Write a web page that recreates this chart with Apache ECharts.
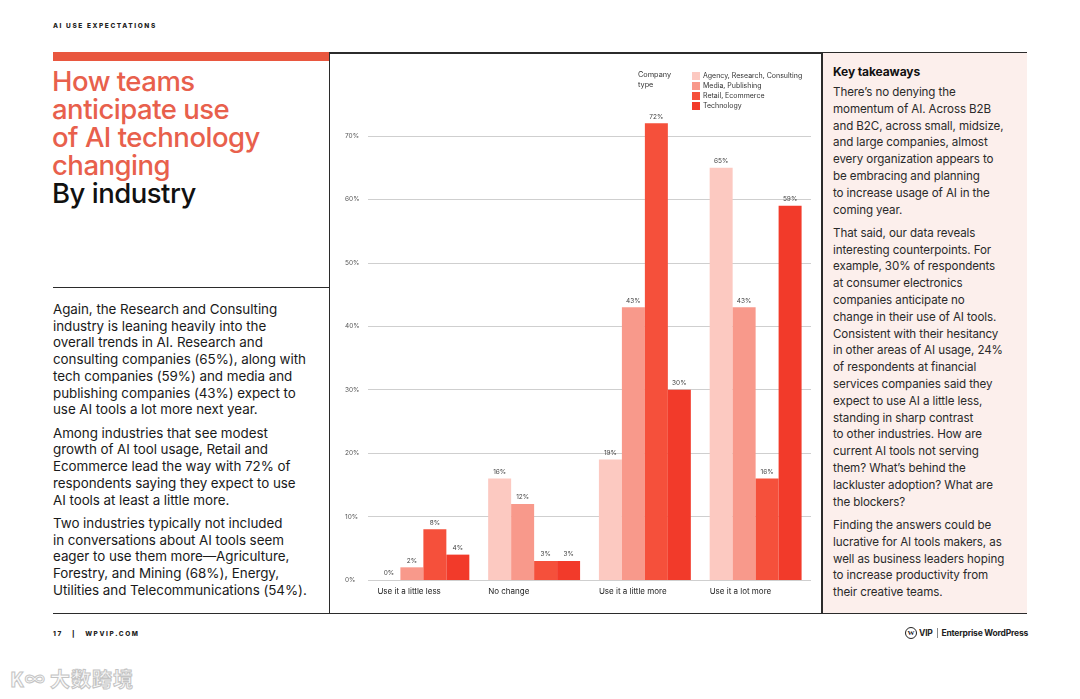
<!DOCTYPE html>
<html><head><meta charset="utf-8">
<script src="https://cdn.jsdelivr.net/npm/echarts@6/dist/echarts.min.js"></script>
<style>
body{margin:0;width:1080px;height:699px;background:#fff;position:relative;overflow:hidden;font-family:Inter,"Noto Sans",sans-serif;color:#1a1a1a}
.abs{position:absolute;white-space:nowrap}
.hdr{font-size:6.5px;font-weight:800;letter-spacing:1.6px;color:#222}
.title{left:52px;top:67px;font-size:27.5px;line-height:28px;font-weight:500;letter-spacing:-0.5px;color:#e8604c}
.title .k{color:#111}
.body{left:53px;top:301px;font-size:13.4px;line-height:16.7px;letter-spacing:-0.05px;color:#1a1a1a}
.body p{margin:0 0 6.8px 0}
.right{left:822px;top:53px;width:205px;height:560px;background:#fcefec}
.rt{left:833px;top:64px;font-size:11.6px;line-height:16.8px;letter-spacing:-0.1px;color:#2a2a2a}
.rt p{margin:0 0 6.5px 0}
.rt .h{font-weight:700;font-size:12px;line-height:16px;margin-bottom:4px;color:#111}
.line{background:#2b2b2b}
#chart{position:absolute;left:330px;top:54px;width:491px;height:558px}
.wm{left:50px;top:664px;font-size:20px;font-weight:700;color:#fafafa;-webkit-text-stroke:1px #c4c4c4;letter-spacing:1px;font-family:"Noto Sans CJK SC",sans-serif}
</style></head>
<body>
<div class="abs hdr" style="left:53px;top:22px">AI USE EXPECTATIONS</div>
<div class="abs" style="left:53px;top:52px;width:276px;height:9px;background:#e9573f"></div>
<div class="abs line" style="left:329px;top:52px;width:698px;height:1.5px"></div>
<div class="abs right"></div>
<div class="abs line" style="left:328.5px;top:52px;width:1.5px;height:562px"></div>
<div class="abs line" style="left:821px;top:52px;width:1.5px;height:562px"></div>
<div class="abs line" style="left:53px;top:612.5px;width:974px;height:1.5px"></div>
<div class="abs line" style="left:53px;top:286.5px;width:276px;height:1.2px"></div>
<div class="abs title">How teams<br>anticipate use<br>of AI technology<br>changing<br><span class="k">By industry</span></div>
<div class="abs body">
<p>Again, the Research and Consulting<br>industry is leaning heavily into the<br>overall trends in AI. Research and<br>consulting companies (65%), along with<br>tech companies (59%) and media and<br>publishing companies (43%) expect to<br>use AI tools a lot more next year.</p>
<p>Among industries that see modest<br>growth of AI tool usage, Retail and<br>Ecommerce lead the way with 72% of<br>respondents saying they expect to use<br>AI tools at least a little more.</p>
<p>Two industries typically not included<br>in conversations about AI tools seem<br>eager to use them more—Agriculture,<br>Forestry, and Mining (68%), Energy,<br>Utilities and Telecommunications (54%).</p>
</div>
<div class="abs rt">
<div class="h">Key takeaways</div>
<p>There’s no denying the<br>momentum of AI. Across B2B<br>and B2C, across small, midsize,<br>and large companies, almost<br>every organization appears to<br>be embracing and planning<br>to increase usage of AI in the<br>coming year.</p>
<p>That said, our data reveals<br>interesting counterpoints. For<br>example, 30% of respondents<br>at consumer electronics<br>companies anticipate no<br>change in their use of AI tools.<br>Consistent with their hesitancy<br>in other areas of AI usage, 24%<br>of respondents at financial<br>services companies said they<br>expect to use AI a little less,<br>standing in sharp contrast<br>to other industries. How are<br>current AI tools not serving<br>them? What’s behind the<br>lackluster adoption? What are<br>the blockers?</p>
<p>Finding the answers could be<br>lucrative for AI tools makers, as<br>well as business leaders hoping<br>to increase productivity from<br>their creative teams.</p>
</div>
<div class="abs hdr" style="left:53px;top:630px">17 &nbsp;&nbsp;| &nbsp;&nbsp;WPVIP.COM</div>
<div class="abs" style="left:905px;top:627px;font-size:8.5px;font-weight:700;color:#222;letter-spacing:-0.2px;display:flex;align-items:center">
<span style="display:inline-block;width:10px;height:10px;border:1.3px solid #222;border-radius:50%;font-size:7px;line-height:10px;text-align:center;margin-right:2px;font-family:serif">W</span>VIP <span style="display:inline-block;width:0.8px;height:10px;background:#888;margin:0 4px"></span>Enterprise WordPress</div>
<div class="abs wm" style="left:10px">K∞</div>
<div class="abs wm">大数跨境</div>
<div id="chart"></div>
<script>
const categories = ['Use it a little less', 'No change', 'Use it a little more', 'Use it a lot more'];
const seriesNames = ['Agency, Research, Consulting', 'Media, Publishing', 'Retail, Ecommerce', 'Technology'];
const agencyResearchConsulting = [0, 16, 19, 65];
const mediaPublishing = [2, 12, 43, 43];
const retailEcommerce = [8, 3, 72, 16];
const technology = [4, 3, 30, 59];
const colors = ['#fcc9c1', '#f8998b', '#f5503b', '#f23a2a'];

const seriesData = [agencyResearchConsulting, mediaPublishing, retailEcommerce, technology];
const chart = echarts.init(document.getElementById('chart'), null, {renderer: 'canvas'});
chart.setOption({
  animation: false,
  title: {
    text: 'Company\ntype', left: 303, top: 11,
    textStyle: {fontSize: 7.3, fontWeight: 'normal', color: '#333', lineHeight: 10, fontFamily: 'Inter'}
  },
  legend: {
    orient: 'vertical', left: 357, top: 13,
    itemWidth: 8, itemHeight: 8, itemGap: 2,
    icon: 'rect',
    textStyle: {fontSize: 7, color: '#333', lineHeight: 8, fontFamily: 'Inter', padding: [0, 0, 0, -2]},
    data: seriesNames
  },
  grid: {left: 38, right: 10, top: 82, bottom: 32},
  xAxis: {
    type: 'category', data: categories,
    axisLine: {show: false}, axisTick: {show: false},
    axisLabel: {
      interval: 0, margin: 8,
      formatter: v => '{l|' + v + '}',
      rich: {l: {width: 92, align: 'left', fontSize: 8, color: '#222', fontFamily: 'Inter'}}
    }
  },
  yAxis: {
    type: 'value', min: 0, max: 70, interval: 10,
    axisLine: {show: false}, axisTick: {show: false},
    axisLabel: {formatter: '{value}%', align: 'left', margin: 23, fontSize: 6.5, color: '#555', fontFamily: 'Inter'},
    splitLine: {lineStyle: {color: '#cfcfcf', width: 1}}
  },
  series: seriesNames.map((name, i) => ({
    name, type: 'bar', data: seriesData[i], clip: false,
    barGap: '0%', barCategoryGap: '17%',
    itemStyle: {color: colors[i]},
    label: {show: true, position: 'top', distance: 3, formatter: '{c}%', fontSize: 6.5, color: '#444', fontFamily: 'Inter'}
  }))
});
</script>
</body></html>
